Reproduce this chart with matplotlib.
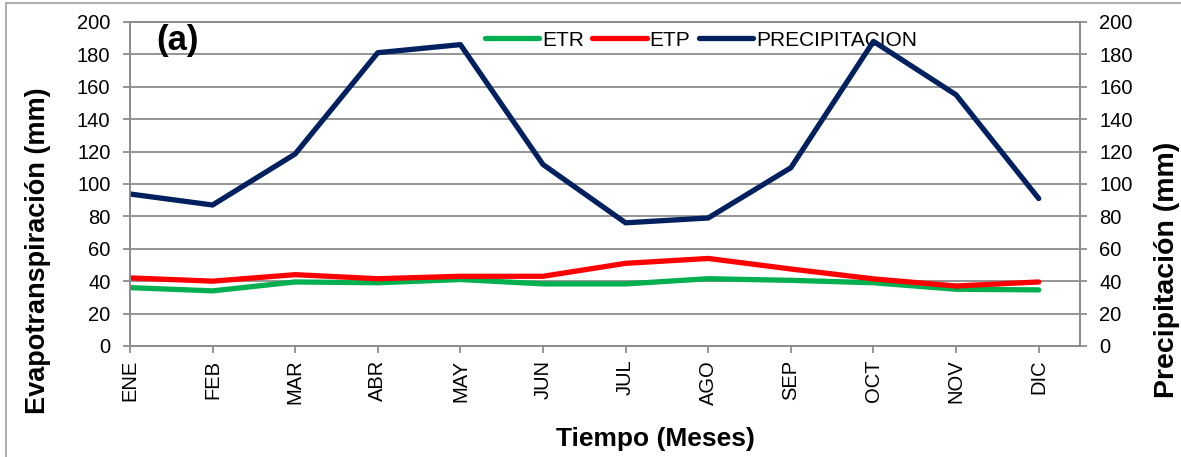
import matplotlib.pyplot as plt
from matplotlib.patches import Rectangle

plt.rcParams['font.family'] = ['Liberation Sans', 'DejaVu Sans']

meses = ['ENE', 'FEB', 'MAR', 'ABR', 'MAY', 'JUN', 'JUL', 'AGO', 'SEP', 'OCT', 'NOV', 'DIC']
etr = [36, 34, 39.5, 39, 41, 38.3, 38.3, 41.5, 40.5, 39, 35, 34.6]
etp = [42, 40, 44, 41.5, 43, 43, 51, 54, 47.5, 41.4, 37, 39.5]
precipitacion = [93.8, 87, 118.5, 181, 186, 112, 76, 79, 110, 188, 155, 91]

fig = plt.figure(figsize=(11.81, 4.57), dpi=100)
ax = fig.add_axes([0.110, 0.243, 0.8045, 0.709])
ax2 = ax.twinx()

x = list(range(len(meses)))
l1, = ax.plot(x, etr, color='#00B050', lw=3.8, solid_capstyle='round', label='ETR')
l2, = ax.plot(x, etp, color='#FF0000', lw=3.8, solid_capstyle='round', label='ETP')
l3, = ax2.plot(x, precipitacion, color='#002060', lw=3.8, solid_capstyle='round',
               label='PRECIPITACION')

grey = '#8c8c8c'
for a in (ax, ax2):
    a.set_ylim(0, 200)
    a.set_yticks(range(0, 201, 20))
    a.set_xlim(0, 11.5)
    for s in a.spines.values():
        s.set_color(grey)
        s.set_linewidth(1.3)
    a.tick_params(axis='both', colors=grey, labelcolor='black', labelsize=14.5,
                  length=5, width=1.3, pad=9)
ax.tick_params(axis='x', pad=5)

ax.grid(axis='y', color=grey, lw=1.3)
ax.set_axisbelow(True)
ax.set_xticks(x)
ax.set_xticklabels(meses, rotation=90)

ax.set_ylabel('Evapotranspiración (mm)', fontsize=19.5, fontweight='bold')
ax.yaxis.set_label_coords(-0.083, 0.293)
ax2.set_ylabel('Precipitación (mm)', fontsize=20.5, fontweight='bold')
ax2.yaxis.set_label_coords(1.078, 0.235)
ax.set_xlabel('Tiempo (Meses)', fontsize=19, fontweight='bold')
ax.xaxis.set_label_coords(0.553, -0.25)

ax.text(0.32, 199, '(a)', fontsize=25, fontweight='bold', va='top', ha='left')

ax.legend(handles=[l1, l2, l3], loc='center', bbox_to_anchor=(0.601, 0.944),
          ncol=3, frameon=False, fontsize=15, handlelength=2.6,
          handletextpad=0.15, columnspacing=0.4, borderpad=0)

fig.patches.append(Rectangle((0.005, -0.05), 1.2, 1.043, transform=fig.transFigure,
                             fill=False, edgecolor='#a0a0a0', lw=1.2))

fig.savefig('out.png', dpi=100)
